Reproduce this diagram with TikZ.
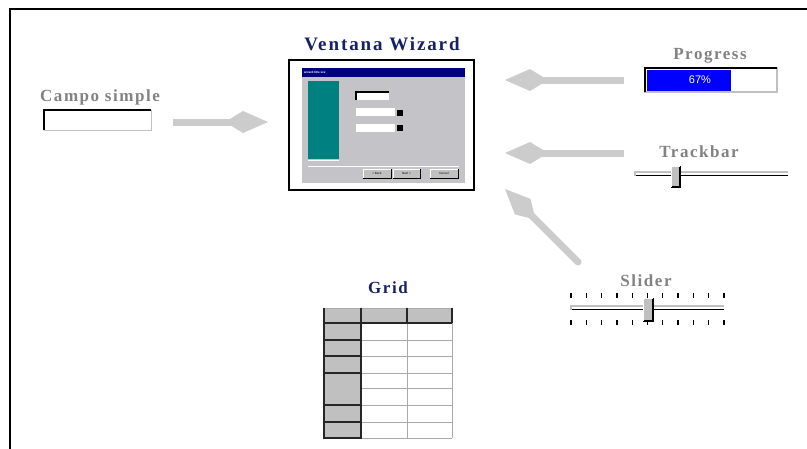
\documentclass[tikz,border=0pt]{standalone}
\usepackage{fontspec}
\setmainfont{Liberation Serif}
\newfontfamily\lsans{Liberation Sans}
\usetikzlibrary{arrows.meta}
\definecolor{navytxt}{RGB}{22,32,102}
\definecolor{greytxt}{RGB}{130,130,130}
\definecolor{silver}{RGB}{192,192,192}
\definecolor{panelgrey}{RGB}{196,196,200}
\definecolor{tealc}{RGB}{0,128,128}
\definecolor{titlebar}{RGB}{0,0,128}
\definecolor{arrowgrey}{RGB}{204,204,204}
\definecolor{cellline}{RGB}{170,170,170}
\tikzset{
  box/.style={anchor=north west, inner sep=0pt, outer sep=0pt},
  lbl/.style={anchor=base, inner sep=0pt, text=greytxt,
    font=\fontsize{17}{17}\selectfont\bfseries\addfontfeature{LetterSpace=9}},
  ttl/.style={anchor=base, inner sep=0pt, text=navytxt,
    font=\fontsize{17}{17}\selectfont\bfseries\addfontfeature{LetterSpace=9}},
  bigttl/.style={anchor=base, inner sep=0pt, text=navytxt,
    font=\fontsize{19}{19}\selectfont\bfseries\addfontfeature{LetterSpace=10}},
  fatarrow/.style={draw=arrowgrey, line width=7pt,
    -{Kite[length=43pt,width=22pt,inset=18pt,line width=0pt,fill=arrowgrey]}},
  tiny/.style={inner sep=0pt, font=\lsans\fontsize{3}{3}\selectfont},
  btn/.style={box, fill=silver},
}
\begin{document}
\begin{tikzpicture}[x=1pt,y=-1pt]
\useasboundingbox[fill=white] (0,0) rectangle (807,448);
% outer frame
\draw[line width=2.5pt, black] (10,449) -- (10,9) -- (808,9);

% ---------- Ventana Wizard ----------
\node[bigttl] (wiztitle) at (382,50) {Ventana Wizard};
\node[box, draw=black, line width=1.5pt, fill=white, minimum width=185pt, minimum height=130pt] (wiz) at (289,60) {};
\node[box, fill=panelgrey, minimum width=163pt, minimum height=115pt] (panel) at (302,68) {};
\node[box, fill=titlebar, minimum width=163pt, minimum height=9pt] (tbar) at (302,68) {};
\node[tiny, text=white, anchor=west] (tbartxt) at (304,72.5) {\bfseries wizard title xxx};
\node[box, fill=tealc, minimum width=31pt, minimum height=78pt] (teal) at (308,81) {};
\draw[white, line width=0.8pt] (308,160.5) -- (339,160.5);
% fields
\node[box, fill=white, minimum width=33pt, minimum height=8pt] (f1) at (356,92) {};
\draw[black, line width=1.2pt] (f1.south west) -- (f1.north west) -- (f1.north east);
\node[box, fill=white, minimum width=39pt, minimum height=8pt] (f2) at (356,108) {};
\node[box, fill=black, minimum width=6pt, minimum height=6pt] (f2b) at (397,109.5) {};
\node[box, fill=white, minimum width=39pt, minimum height=8pt] (f3) at (356,123.5) {};
\node[box, fill=black, minimum width=6pt, minimum height=6pt] (f3b) at (397,125) {};
\draw[white, line width=1pt] (308,166) -- (459,166);
% buttons
\foreach \n/\xa/\xb/\t in {b1/363/391/{\textless\ Back}, b2/393/420/{Next \textgreater}, b3/430/458/{Cancel}}{
  \node[btn, minimum width=\xb pt-\xa pt, minimum height=9pt] (\n) at (\xa,169) {};
  \draw[white, line width=0.6pt] (\n.south west) -- (\n.north west) -- (\n.north east);
  \draw[black, line width=1pt] (\n.south west) -- (\n.south east) -- (\n.north east);
  \node[tiny] at (\n.center) {\t};
}

% ---------- Campo simple ----------
\node[lbl] (campolbl) at (100,101) {Campo simple};
\node[box, fill=white, draw=silver, line width=1pt, minimum width=107pt, minimum height=20pt] (campo) at (44,110) {};
\draw[black, line width=2.2pt] (campo.south west) -- (campo.north west) -- (campo.north east);

% ---------- Progress ----------
\node[lbl] (proglbl) at (710,59) {Progress};
\node[box, fill=white, draw=silver, line width=1.5pt, minimum width=132pt, minimum height=24pt] (prog) at (645,68) {};
\fill[blue] (647,70) rectangle (731,90.5);
\draw[black, line width=2pt] (prog.south west) -- (prog.north west) -- (prog.north east);
\node[inner sep=0pt, text=white, font=\lsans\fontsize{11}{11}\selectfont] (progtxt) at (700,80) {67\%};

% ---------- Trackbar ----------
\node[lbl] (tracklbl) at (699,157) {Trackbar};
\draw[silver, line width=1.2pt] (635,176) -- (635,172) -- (788,172);
\draw[black, line width=1.3pt] (636,175.5) -- (788,175.5);
\node[box, fill=silver, minimum width=9pt, minimum height=21pt] (trthumb) at (671,166) {};
\draw[black, line width=1.2pt] (trthumb.south west) -- (trthumb.south east) -- (trthumb.north east);
\draw[white, line width=0.6pt] (trthumb.south west) -- (trthumb.north west) -- (trthumb.north east);

% ---------- Slider ----------
\node[lbl] (sliderlbl) at (646,286) {Slider};
\foreach \i in {0,...,10}{
  \draw[black, line width=1.3pt] (571+\i*15.3,293) -- (571+\i*15.3,298);
  \draw[black, line width=1.3pt] (571+\i*15.3,320) -- (571+\i*15.3,324.5);
}
\draw[silver, line width=1.2pt] (571,310) -- (571,306) -- (724,306);
\draw[black, line width=1.3pt] (572,309.5) -- (724,309.5);
\node[box, fill=silver, minimum width=10pt, minimum height=23pt] (slthumb) at (643,298) {};
\draw[black, line width=1.2pt] (slthumb.south west) -- (slthumb.south east) -- (slthumb.north east);
\draw[white, line width=0.6pt] (slthumb.south west) -- (slthumb.north west) -- (slthumb.north east);

% ---------- Grid ----------
\node[ttl] (gridlbl) at (388,293) {Grid};
\node[box, minimum width=128pt, minimum height=130pt] (grid) at (324,308) {};
\fill[silver] (324,308) rectangle (452,323);
\fill[silver] (324,323) rectangle (361,438);
\fill[white] (361,323) rectangle (452,438);
\foreach \y in {340,356,373,388,405,422,438}{
  \draw[cellline, line width=1pt] (361,\y) -- (452,\y);
}
\draw[cellline, line width=1pt] (407,323) -- (407,438);
\draw[cellline, line width=1pt] (452,323) -- (452,438);
\draw[cellline, line width=0.8pt] (324,308) -- (452,308);
% dark lines
\draw[black!85, line width=1.5pt] (324,307.5) -- (324,438.5);
\draw[black!85, line width=1.3pt] (361,307.5) -- (361,438.5);
\draw[black!85, line width=1.3pt] (407,307.5) -- (407,323);
\draw[black!85, line width=1.3pt] (452,307.5) -- (452,323);
\draw[black!85, line width=1.3pt] (324,323) -- (452,323);
\foreach \y in {340,356,373,405,422,438}{
  \draw[black!85, line width=1.3pt] (324,\y) -- (361,\y);
}

% ---------- connectors ----------
\coordinate (ca1) at (173,122);
\coordinate (ca2) at (268,122);
\coordinate (pa1) at (624,80);
\coordinate (pa2) at (505,80);
\coordinate (ta1) at (624,153);
\coordinate (ta2) at (505,153);
\coordinate (sa1) at (578,262);
\coordinate (sa2) at (505,189);
\draw[fatarrow] (ca1) -- (ca2);
\draw[fatarrow] (pa1) -- (pa2);
\draw[fatarrow] (ta1) -- (ta2);
\draw[fatarrow, line cap=round] (sa1) -- (sa2);
\end{tikzpicture}
\end{document}
